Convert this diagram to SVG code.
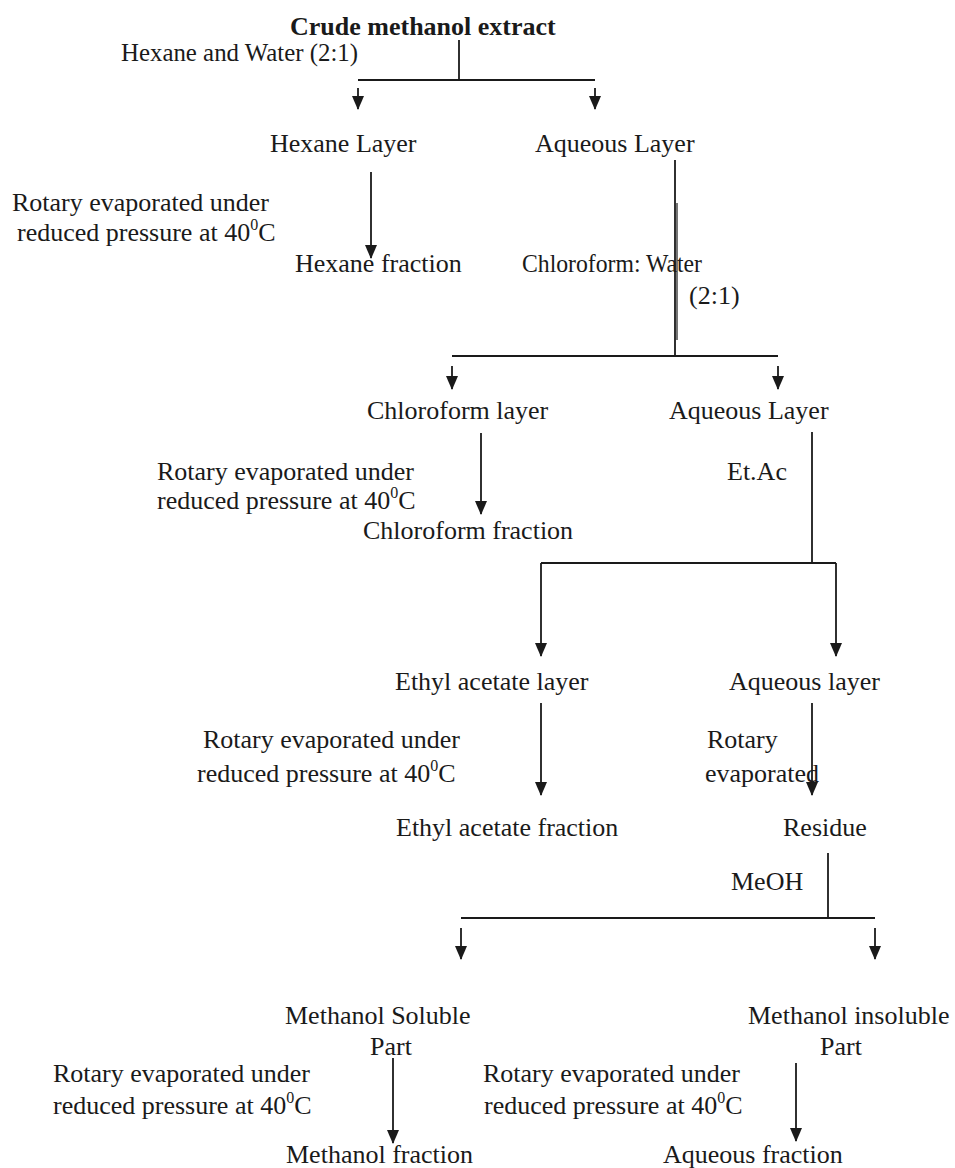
<svg xmlns="http://www.w3.org/2000/svg" width="955" height="1168" viewBox="0 0 955 1168">
<style>
text{font-family:"Liberation Serif","Times New Roman",serif;font-size:26px;fill:#1a1a1a}
.b{font-weight:bold}
.sup{font-size:16px}
.ln{stroke:#1a1a1a;stroke-width:1.8;fill:none}
.ar{stroke:#1a1a1a;stroke-width:1.8;fill:none;marker-end:url(#ah)}
</style>
<defs>
<marker id="ah" viewBox="0 0 14 12" refX="13" refY="6" markerWidth="14" markerHeight="12" markerUnits="userSpaceOnUse" orient="auto">
<path d="M0,0 L14,6 L0,12 z" fill="#1a1a1a"/>
</marker>
</defs>
<rect width="955" height="1168" fill="#fff"/>
<g id="connectors">
<line class="ln" x1="459" y1="40" x2="459" y2="80"/>
<line class="ln" x1="358" y1="80" x2="595" y2="80"/>
<line class="ar" x1="358" y1="88" x2="358" y2="109"/>
<line class="ar" x1="595" y1="88" x2="595" y2="109"/>
<line class="ar" x1="371" y1="172" x2="371" y2="258"/>
<line class="ln" x1="675" y1="160" x2="675" y2="356"/>
<line class="ln" x1="677" y1="203" x2="677" y2="340" style="stroke-width:1.2"/>
<line class="ln" x1="452" y1="356" x2="778" y2="356"/>
<line class="ar" x1="452" y1="366" x2="452" y2="389"/>
<line class="ar" x1="778" y1="366" x2="778" y2="389"/>
<line class="ar" x1="481" y1="433" x2="481" y2="514"/>
<line class="ln" x1="812" y1="432" x2="812" y2="563"/>
<line class="ln" x1="541" y1="563" x2="836" y2="563"/>
<line class="ar" x1="541" y1="563" x2="541" y2="656"/>
<line class="ar" x1="836" y1="563" x2="836" y2="656"/>
<line class="ar" x1="541" y1="703" x2="541" y2="795"/>
<line class="ar" x1="812" y1="703" x2="812" y2="795"/>
<line class="ln" x1="828" y1="853" x2="828" y2="918"/>
<line class="ln" x1="461" y1="918" x2="875" y2="918"/>
<line class="ar" x1="461" y1="928" x2="461" y2="959"/>
<line class="ar" x1="875" y1="928" x2="875" y2="959"/>
<line class="ar" x1="393" y1="1058" x2="393" y2="1143"/>
<line class="ar" x1="796" y1="1063" x2="796" y2="1141"/>
</g>
<g id="crude"><text class="b" x="290" y="35">Crude methanol extract</text></g>
<g id="label-hexane-water"><text x="121" y="61" textLength="237" lengthAdjust="spacingAndGlyphs">Hexane and Water (2:1)</text></g>
<g id="hexane-layer"><text x="270" y="152">Hexane Layer</text></g>
<g id="aqueous-layer-1"><text x="535" y="152">Aqueous Layer</text></g>
<g id="label-rotary-1"><text x="12" y="211">Rotary evaporated under</text><text x="17" y="241">reduced pressure at 40<tspan class="sup" dy="-11">0</tspan><tspan dy="11">C</tspan></text></g>
<g id="hexane-fraction"><text x="295" y="272">Hexane fraction</text></g>
<g id="label-chloroform-water"><text x="522" y="272" textLength="180" lengthAdjust="spacingAndGlyphs">Chloroform: Water</text><text x="689" y="304">(2:1)</text></g>
<g id="chloroform-layer"><text x="367" y="419">Chloroform layer</text></g>
<g id="aqueous-layer-2"><text x="669" y="419">Aqueous Layer</text></g>
<g id="label-rotary-2"><text x="157" y="480">Rotary evaporated under</text><text x="157" y="509">reduced pressure at 40<tspan class="sup" dy="-11">0</tspan><tspan dy="11">C</tspan></text></g>
<g id="chloroform-fraction"><text x="363" y="539">Chloroform fraction</text></g>
<g id="label-etac"><text x="727" y="480">Et.Ac</text></g>
<g id="ethyl-acetate-layer"><text x="395" y="690">Ethyl acetate layer</text></g>
<g id="aqueous-layer-3"><text x="729" y="690">Aqueous layer</text></g>
<g id="label-rotary-3"><text x="203" y="748">Rotary evaporated under</text><text x="197" y="782">reduced pressure at 40<tspan class="sup" dy="-11">0</tspan><tspan dy="11">C</tspan></text></g>
<g id="label-rotary-4"><text x="707" y="748">Rotary</text><text x="705" y="782">evaporated</text></g>
<g id="ethyl-acetate-fraction"><text x="396" y="836">Ethyl acetate fraction</text></g>
<g id="residue"><text x="783" y="836">Residue</text></g>
<g id="label-meoh"><text x="731" y="890">MeOH</text></g>
<g id="methanol-soluble"><text x="285" y="1024">Methanol Soluble</text><text x="370" y="1055">Part</text></g>
<g id="methanol-insoluble"><text x="748" y="1024">Methanol insoluble</text><text x="820" y="1055">Part</text></g>
<g id="label-rotary-5"><text x="53" y="1082">Rotary evaporated under</text><text x="53" y="1114">reduced pressure at 40<tspan class="sup" dy="-11">0</tspan><tspan dy="11">C</tspan></text></g>
<g id="label-rotary-6"><text x="483" y="1082">Rotary evaporated under</text><text x="484" y="1114">reduced pressure at 40<tspan class="sup" dy="-11">0</tspan><tspan dy="11">C</tspan></text></g>
<g id="methanol-fraction"><text x="286" y="1163">Methanol fraction</text></g>
<g id="aqueous-fraction"><text x="663" y="1163">Aqueous fraction</text></g>
</svg>
